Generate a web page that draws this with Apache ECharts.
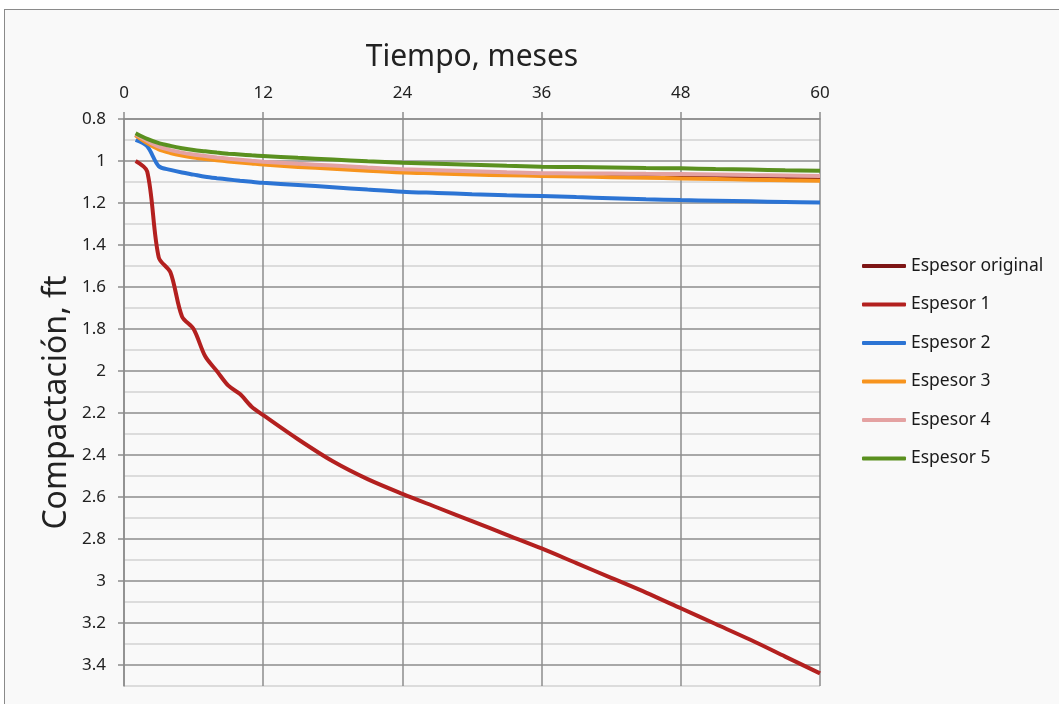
<!DOCTYPE html>
<html>
<head>
<meta charset="utf-8">
<script src="https://cdn.jsdelivr.net/npm/echarts@6/dist/echarts.min.js"></script>
<style>
    body { margin: 0; background: #fff; overflow: hidden; }
    #frame { position: absolute; left: 4px; top: 9px; width: 1070px; height: 710px;
             border: 1px solid #8a8a8a; background: #f9f9f9; }
    #main { position: absolute; left: 0; top: 0; width: 1059px; height: 704px; }
</style>
</head>
<body>
<div id="frame"></div>
<div id="main"></div>
<script>
// meses (eje x)
var meses = [1, 2, 3, 4, 5, 6, 7, 8, 9, 10, 11, 12, 15, 18, 21, 24, 27, 30, 33, 36, 39, 42, 45, 48, 51, 54, 57, 60];

// compactacion, ft
var espesorOriginal = [0.875, 0.91, 0.938, 0.955, 0.967, 0.976, 0.983, 0.99, 0.996, 1.001, 1.006, 1.011, 1.021, 1.03, 1.038, 1.045, 1.05, 1.055, 1.06, 1.064, 1.066, 1.068, 1.07, 1.072, 1.075, 1.078, 1.08, 1.082];
var espesor1 = [1.00, 1.05, 1.46, 1.53, 1.74, 1.80, 1.93, 2.00, 2.07, 2.11, 2.17, 2.21, 2.325, 2.43, 2.515, 2.585, 2.65, 2.715, 2.78, 2.845, 2.915, 2.985, 3.055, 3.13, 3.205, 3.28, 3.36, 3.44];
var espesor2 = [0.90, 0.93, 1.025, 1.042, 1.055, 1.065, 1.075, 1.082, 1.088, 1.094, 1.099, 1.104, 1.114, 1.125, 1.136, 1.146, 1.152, 1.158, 1.163, 1.167, 1.172, 1.177, 1.182, 1.186, 1.189, 1.192, 1.195, 1.198];
var espesor3 = [0.878, 0.915, 0.945, 0.962, 0.974, 0.983, 0.99, 0.996, 1.002, 1.007, 1.012, 1.017, 1.028, 1.037, 1.047, 1.055, 1.059, 1.064, 1.068, 1.071, 1.074, 1.077, 1.08, 1.083, 1.086, 1.089, 1.092, 1.094];
var espesor4 = [0.872, 0.905, 0.932, 0.948, 0.96, 0.969, 0.976, 0.983, 0.989, 0.994, 0.999, 1.003, 1.013, 1.022, 1.031, 1.039, 1.044, 1.049, 1.054, 1.058, 1.059, 1.06, 1.061, 1.062, 1.064, 1.067, 1.069, 1.071];
var espesor5 = [0.868, 0.895, 0.915, 0.928, 0.939, 0.948, 0.954, 0.96, 0.965, 0.969, 0.973, 0.976, 0.985, 0.993, 1.001, 1.008, 1.013, 1.018, 1.023, 1.027, 1.029, 1.031, 1.033, 1.035, 1.038, 1.041, 1.044, 1.046];

var nombres = ['Espesor original', 'Espesor 1', 'Espesor 2', 'Espesor 3', 'Espesor 4', 'Espesor 5'];
var colores = ['#7e1515', '#b3201f', '#2c74d4', '#f7941e', '#e4a2a2', '#5a901f'];
var valores = [espesorOriginal, espesor1, espesor2, espesor3, espesor4, espesor5];

var fuente = 'Noto Sans';

function pares(vals) {
    var out = [];
    for (var i = 0; i < meses.length; i++) {
        out.push([meses[i], vals[i]]);
    }
    return out;
}

var chart = echarts.init(document.getElementById('main'));

var series = [];
for (var i = 0; i < nombres.length; i++) {
    series.push({
        name: nombres[i],
        type: 'line',
        yAxisIndex: 0,
        data: pares(valores[i]),
        symbol: 'none',
        smooth: 0.3,
        lineStyle: { color: colores[i], width: 4 },
        itemStyle: { color: colores[i] }
    });
}

chart.setOption({
    backgroundColor: 'transparent',
    animation: false,
    grid: { left: 124, right: 239, top: 119, bottom: 18 },
    legend: {
        orient: 'vertical',
        left: 857,
        top: 252,
        icon: 'roundRect',
        itemWidth: 44,
        itemHeight: 4,
        itemGap: 20.5,
        textStyle: { fontFamily: fuente, fontSize: 17.5, color: '#1a1a1a' },
        data: nombres
    },
    xAxis: {
        type: 'value',
        position: 'top',
        min: 0,
        max: 60,
        interval: 12,
        name: 'Tiempo, meses',
        nameLocation: 'middle',
        nameGap: 47,
        nameTextStyle: { fontFamily: fuente, fontSize: 30, color: '#222' },
        axisLine: { show: true, lineStyle: { color: '#8c8c8c', width: 1.5 } },
        axisTick: { show: true, length: 7, lineStyle: { color: '#8c8c8c', width: 1.5 } },
        axisLabel: { fontFamily: fuente, fontSize: 17, color: '#222', margin: 17 },
        splitLine: { show: true, lineStyle: { color: '#8c8c8c', width: 1.5 } }
    },
    yAxis: [{
        type: 'value',
        inverse: true,
        min: 0.8,
        max: 3.5,
        interval: 0.1,
        name: 'Compactación, ft',
        nameLocation: 'middle',
        nameGap: 51,
        nameTextStyle: { fontFamily: fuente, fontSize: 32, color: '#222' },
        axisLine: { show: true, lineStyle: { color: '#8c8c8c', width: 1.5 } },
        axisTick: { show: false },
        axisLabel: { show: false },
        splitLine: { show: true, lineStyle: { color: ['#8c8c8c', '#d2d2d2'], width: 1.5 } }
    }, {
        type: 'value',
        position: 'left',
        inverse: true,
        min: 0.8,
        max: 3.5,
        interval: 0.2,
        axisLine: { show: false },
        axisTick: { show: true, length: 6, lineStyle: { color: '#8c8c8c', width: 1.5 } },
        axisLabel: {
            showMaxLabel: false,
            fontFamily: fuente, fontSize: 17, color: '#222', margin: 18,
            formatter: function (v) {
                return String(parseFloat(v.toFixed(1)));
            }
        },
        splitLine: { show: false }
    }],
    series: series
});
</script>
</body>
</html>
